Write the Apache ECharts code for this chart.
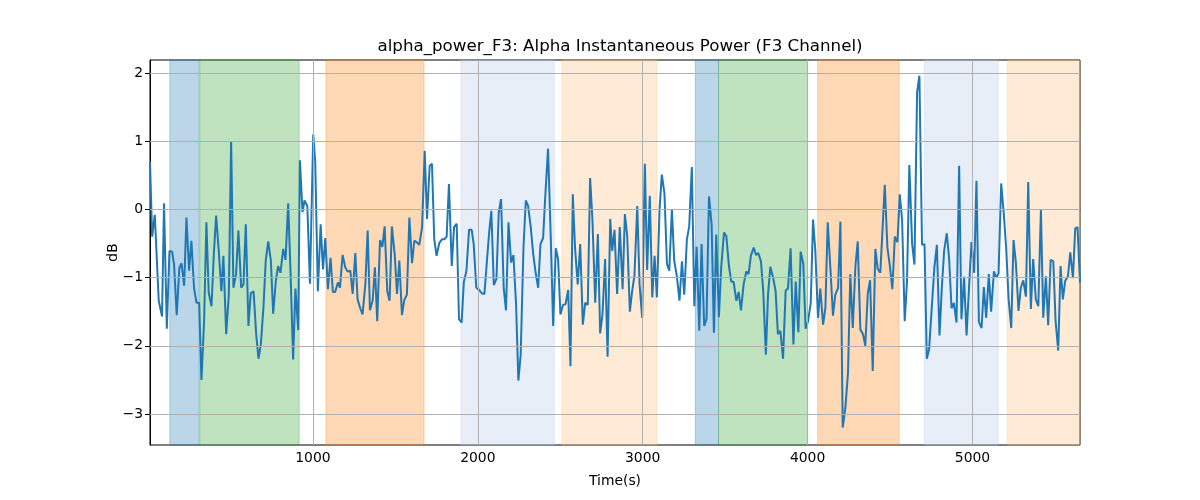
<!DOCTYPE html>
<html>
<head>
<meta charset="utf-8">
<script src="https://cdn.jsdelivr.net/npm/echarts@6.0.0/dist/echarts.min.js"></script>
<style>html,body{margin:0;padding:0;background:#fff}#c{width:1200px;height:500px}</style>
</head>
<body>
<div id="c"></div>
<script>
const times = [
12,25,41,65,85,97,114,130,146,158,174,190,203,219,233,249,263,279,294,310,324,340,354,368,385,399,413,429,445,457,474,490,504,518,534,548,565,579,593,609,623,640,656,670,684,700,714,729,745,759,775,789,803,820,834,850,864,880,894,911,
921,937,949,966,982,1002,1014,1030,1047,1061,1075,1091,1107,1121,1135,1152,1164,1180,1196,1210,1227,1241,1257,1271,1287,1301,1318,1332,1346,1362,1376,1390,1407,1421,1435,1451,1465,1479,1496,1510,1524,1540,1554,1570,1585,1601,1615,1629,1645,1662,1678,1692,1708,1722,1736,1750,1767,1783,1797,1811,1825,1842,1856,1872,
1886,1902,1915,1931,1947,1963,1975,1991,2008,2024,2040,2054,2068,2082,2097,2113,2127,2141,2157,2171,2186,2202,2216,2232,2246,2260,2277,2291,2305,2321,2335,2349,2366,2380,2396,2410,2426,2443,2457,2473,2487,2501,2517,2532,2548,2562,2576,2590,2606,2621,2637,2651,2667,2681,2695,2712,2728,2742,2756,2772,2787,
2803,2815,2829,2845,2861,2878,2892,2906,2922,2936,2950,2967,2981,2997,3013,3027,3043,3058,3072,3086,3102,3116,3132,3147,3161,3177,3191,3207,3223,3238,3252,3268,3282,3298,3313,3327,3343,3357,3373,3387,3402,3418,3432,3446,3462,3476,3493,3507,3523,3537,3551,3568,3582,3596,3612,3628,3642,3656,3673,3687,3701,3717,3731,3747,
3760,3774,3790,3806,3820,3835,3851,3867,3881,3897,3914,3928,3944,3958,3974,3988,4003,4019,4033,4047,4063,4077,4094,4108,4122,4138,4154,4168,4185,4199,4213,4229,4245,4259,4274,4290,4304,4320,4336,4350,4365,4379,4395,4411,4425,4441,4456,4468,4484,4498,4514,4529,4545,4559,4573,4589,4603,4617,4634,4648,4664,4678,4694,
4709,4723,4737,4753,4769,4784,4800,4814,4828,4844,4858,4873,4887,4903,4919,4933,4949,4964,4980,4994,5010,5024,5039,5055,5069,5083,5099,5113,5130,5144,5158,5174,5190,5204,5219,5235,5249,5263,5279,5293,5308,5324,5338,5354,5368,5384,5399,5415,5429,5445,5459,5474,5490,5504,5520,5534,5548,5562,5579,5593,5609,5623,5637,5652
];
const values = [
0.7,-0.40,-0.08,-1.34,-1.57,0.09,-1.75,-0.61,-0.62,-0.81,-1.55,-0.86,-0.79,-1.12,-0.12,-0.90,-0.46,-1.15,-1.37,-1.37,-2.50,-1.64,-0.19,-1.22,-1.42,-0.66,-0.09,-0.61,-1.20,-0.68,-1.83,-1.25,0.99,-1.15,-0.95,-0.31,-1.15,-1.10,-0.22,-1.71,-1.23,-1.20,-1.83,-2.19,-1.98,-1.44,-0.75,-0.47,-0.75,-1.53,-1.05,-0.83,-0.93,-0.58,-0.74,0.09,-0.90,-2.20,-1.16,-1.77,
0.72,-0.04,0.13,0.05,-1.09,1.10,0.69,-1.20,-0.22,-0.88,-0.42,-1.17,-0.71,-1.21,-1.21,-1.07,-1.15,-0.67,-0.85,-0.91,-0.90,-1.24,-0.64,-1.32,-1.45,-1.54,-1.10,-0.31,-1.48,-1.34,-0.85,-1.64,-0.45,-0.55,-0.25,-1.20,-1.34,-0.25,-0.66,-1.24,-0.75,-1.55,-1.33,-1.25,-0.12,-0.79,-0.46,-0.48,-0.52,-0.26,0.86,-0.14,0.64,0.67,-0.44,-0.68,-0.49,-0.44,-0.44,-0.40,0.37,-0.83,-0.26,-0.21,
-1.61,-1.66,-1.07,-0.90,-0.30,-0.30,-0.51,-1.15,-1.18,-1.23,-1.24,-0.80,-0.36,-0.02,-1.11,-1.02,-0.04,0.15,-1.15,-1.48,-0.19,-0.78,-0.67,-1.39,-2.51,-2.13,-0.56,0.13,0.05,-0.26,-0.63,-0.90,-1.15,-0.51,-0.42,0.23,0.89,-0.46,-1.71,-0.57,-0.73,-1.54,-1.40,-1.39,-1.18,-2.30,0.22,-0.58,-1.10,-0.51,-1.69,-1.37,-1.40,0.46,-0.14,-1.37,-0.36,-1.82,-1.54,-0.73,-2.16,
-0.14,-0.61,-0.30,-1.24,-0.26,-1.17,-0.07,-0.39,-1.50,-1.20,-0.97,0.05,-1.10,-1.59,0.67,-0.89,0.20,-1.29,-0.68,-1.29,0.00,0.51,0.23,-0.80,-0.90,0.00,-0.75,-0.98,-1.34,-0.76,-1.25,-0.44,-0.25,0.62,-1.42,-0.55,-1.78,-0.51,-1.71,-1.61,0.19,-0.22,-1.81,-0.37,-1.58,-0.85,-0.34,-0.39,-0.83,-1.06,-1.06,-1.34,-1.21,-1.48,-1.10,-0.91,-0.95,-0.68,-0.56,-0.67,-0.64,-0.76,-1.20,-2.13,
-1.25,-0.84,-0.99,-1.20,-1.83,-1.78,-2.19,-1.19,-1.16,-0.57,-1.98,-1.06,-1.80,-0.62,-0.80,-1.75,-1.64,-1.37,-0.15,-0.61,-1.59,-1.16,-1.69,-1.44,-0.19,-0.85,-1.56,-1.25,-1.15,-0.18,-3.20,-2.91,-2.40,-0.95,-1.74,-0.83,-0.47,-1.76,-1.83,-2.00,-1.23,-1.04,-2.37,-0.58,-0.87,-0.93,-0.22,0.36,-0.56,-0.81,-1.17,-0.40,-0.48,0.22,-0.15,-1.64,-1.05,0.65,-0.51,-0.81,1.72,1.96,-0.52,
-0.51,-2.19,-2.05,-1.44,-0.85,-0.52,-1.85,-1.15,-0.61,-0.35,-0.71,-1.45,-1.37,-1.66,0.64,-1.61,-0.99,-1.85,-1.10,-0.48,-0.93,0.42,-1.65,-1.74,-1.14,-1.59,-0.95,-1.50,-0.91,-1.00,-0.94,0.38,-0.07,-0.56,-1.32,-1.74,-0.45,-0.78,-1.49,-1.15,-1.04,-1.28,0.40,-1.46,-0.73,-1.32,-1.42,-0.01,-1.59,-0.98,-1.70,-0.74,-0.76,-1.64,-2.07,-0.83,-1.32,-1.05,-0.98,-0.63,-1.01,-0.28,-0.26,-1.07
];
// shaded intervals [start, end, colour]
const spanStarts = [132, 314, 1079, 1898, 2510, 3319, 3460, 4061, 4709, 5212];
const spanEnds   = [310, 917, 1674, 2464, 3086, 3460, 4000, 4555, 5156, 5652];
const spanColors = ['#1f77b4','#2ca02c','#ff7f0e','#aec7e8','#ffbb78','#1f77b4','#2ca02c','#ff7f0e','#aec7e8','#ffbb78'];
const xTicks = [1000, 2000, 3000, 4000, 5000];
const yTicks = [-3, -2, -1, 0, 1, 2];
const xMin = 12, xMax = 5652, yMin = -3.455, yMax = 2.19;

function rgba(hex, a){
  const n = parseInt(hex.slice(1),16);
  return 'rgba(' + ((n>>16)&255) + ',' + ((n>>8)&255) + ',' + (n&255) + ',' + a + ')';
}
const lineData = times.map((t,i)=>[t, values[i]]);
const areas = spanStarts.map((s,i)=>[
  {xAxis: s, itemStyle: {color: rgba(spanColors[i],0.3), borderColor: rgba(spanColors[i],0.3), borderWidth: 1}},
  {xAxis: spanEnds[i]}
]);
const gridLines = xTicks.map(v=>({xAxis:v})).concat(yTicks.map(v=>({yAxis:v})));
const fmt = v => String(v).replace('-', '\u2212');
const font = 'DejaVu Sans';

const chart = echarts.init(document.getElementById('c'), null, {renderer:'canvas'});
chart.setOption({
  animation: false,
  backgroundColor: '#fff',
  title: {
    text: 'alpha_power_F3: Alpha Instantaneous Power (F3 Channel)',
    left: 615, top: 33, textAlign: 'center',
    textStyle: {fontFamily: font, fontSize: 16.7, fontWeight: 'normal', color: '#000'}
  },
  grid: {left: 150, right: 120, top: 60, bottom: 55, show: true, borderColor: '#000', borderWidth: 1, backgroundColor: 'transparent'},
  xAxis: {
    type: 'value', min: xMin, max: xMax,
    name: 'Time(s)', nameLocation: 'middle', nameGap: 29, nameMoveOverlap: false,
    nameTextStyle: {fontFamily: font, fontSize: 13.9, color: '#000'},
    axisLine: {show: true, lineStyle: {color: '#000'}},
    axisTick: {show: true, length: 5, lineStyle: {color: '#000'}, customValues: xTicks},
    axisLabel: {fontFamily: font, fontSize: 13.9, color: '#000', margin: 6, customValues: xTicks, formatter: fmt},
    splitLine: {show: false}
  },
  yAxis: {
    type: 'value', min: yMin, max: yMax,
    name: 'dB', nameLocation: 'middle', nameGap: 30, nameRotate: 90, nameMoveOverlap: false,
    nameTextStyle: {fontFamily: font, fontSize: 13.9, color: '#000'},
    axisLine: {show: true, lineStyle: {color: '#000'}},
    axisTick: {show: true, length: 5, lineStyle: {color: '#000'}, customValues: yTicks},
    axisLabel: {fontFamily: font, fontSize: 13.9, color: '#000', margin: 7, customValues: yTicks, formatter: fmt},
    splitLine: {show: false}
  },
  series: [
    {type: 'line', data: [], z: 1, silent: true,
     markArea: {silent: true, data: areas}},
    {type: 'line', data: [], z: 2, silent: true,
     markLine: {silent: true, symbol: ['none','none'], label: {show: false},
       lineStyle: {color: '#b0b0b0', width: 1, type: 'solid'}, data: gridLines}},
    {type: 'line', data: lineData, z: 3, showSymbol: false, symbol: 'none',
     lineStyle: {color: '#1f77b4', width: 2}, itemStyle: {color: '#1f77b4'}}
  ]
});
</script>
</body>
</html>
